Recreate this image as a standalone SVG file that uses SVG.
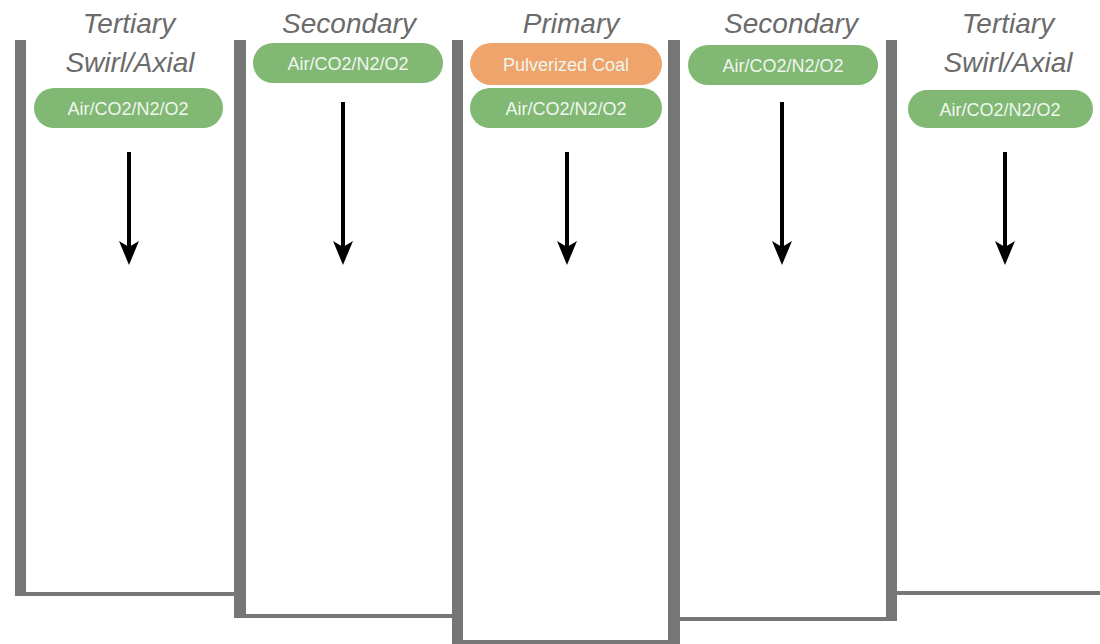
<svg xmlns="http://www.w3.org/2000/svg" width="1100" height="644" viewBox="0 0 1100 644">
<style>
.wall{fill:#767676}
.title{font-family:"Liberation Sans",Arial,sans-serif;font-style:italic;font-size:28px;fill:#6b6b6b;text-anchor:middle}
.pill-g{fill:#80b874}
.pill-o{fill:#efa46c}
.ptxt{font-family:"Liberation Sans",Arial,sans-serif;font-size:18px;fill:#f1f6ee;text-anchor:middle}
.arrow{stroke:#000;stroke-width:4;fill:none;marker-end:url(#ah)}
</style>
<defs>
<marker id="ah" markerUnits="userSpaceOnUse" markerWidth="26" markerHeight="22" refX="7" refY="11" orient="auto" viewBox="0 0 26 22">
<path d="M0,1 L24,11 L0,21 L6,11 z" fill="#000"/>
</marker>
</defs>
<rect width="1100" height="644" fill="#fff"/>
<g id="walls">
<rect class="wall" x="15" y="40" width="11" height="556"/>
<rect class="wall" x="15" y="592" width="219" height="4"/>
<rect class="wall" x="234" y="40" width="12" height="578"/>
<rect class="wall" x="246" y="614" width="206" height="4"/>
<rect class="wall" x="452" y="40" width="11" height="604"/>
<rect class="wall" x="463" y="640" width="205" height="4"/>
<rect class="wall" x="668" y="40" width="12" height="604"/>
<rect class="wall" x="680" y="617" width="206" height="4"/>
<rect class="wall" x="886" y="40" width="11" height="581"/>
<rect class="wall" x="897" y="591" width="203" height="4"/>
</g>
<g id="col-tertiary-left">
<text class="title" x="129" y="33">Tertiary</text>
<text class="title" x="130" y="72">Swirl/Axial</text>
<rect class="pill-g" x="34" y="88" width="189" height="40" rx="20"/>
<text class="ptxt" x="128" y="115">Air/CO2/N2/O2</text>
</g>
<g id="col-secondary-left">
<text class="title" x="349" y="33">Secondary</text>
<rect class="pill-g" x="253" y="43" width="190" height="40" rx="20"/>
<text class="ptxt" x="348" y="70">Air/CO2/N2/O2</text>
</g>
<g id="col-primary">
<text class="title" x="571" y="33">Primary</text>
<rect class="pill-o" x="470" y="43" width="192" height="42" rx="21"/>
<text class="ptxt" x="566" y="71">Pulverized Coal</text>
<rect class="pill-g" x="470" y="88" width="192" height="40" rx="20"/>
<text class="ptxt" x="566" y="115">Air/CO2/N2/O2</text>
</g>
<g id="col-secondary-right">
<text class="title" x="791" y="33">Secondary</text>
<rect class="pill-g" x="688" y="45" width="190" height="40" rx="20"/>
<text class="ptxt" x="783" y="72">Air/CO2/N2/O2</text>
</g>
<g id="col-tertiary-right">
<text class="title" x="1008" y="33">Tertiary</text>
<text class="title" x="1008" y="72">Swirl/Axial</text>
<rect class="pill-g" x="908" y="90" width="185" height="38" rx="19"/>
<text class="ptxt" x="1000" y="116">Air/CO2/N2/O2</text>
</g>
<g id="connectors">
<line class="arrow" x1="129" y1="152" x2="129" y2="248"/>
<line class="arrow" x1="343" y1="102" x2="343" y2="248"/>
<line class="arrow" x1="567" y1="152" x2="567" y2="248"/>
<line class="arrow" x1="782" y1="102" x2="782" y2="248"/>
<line class="arrow" x1="1005" y1="152" x2="1005" y2="248"/>
</g>
</svg>
